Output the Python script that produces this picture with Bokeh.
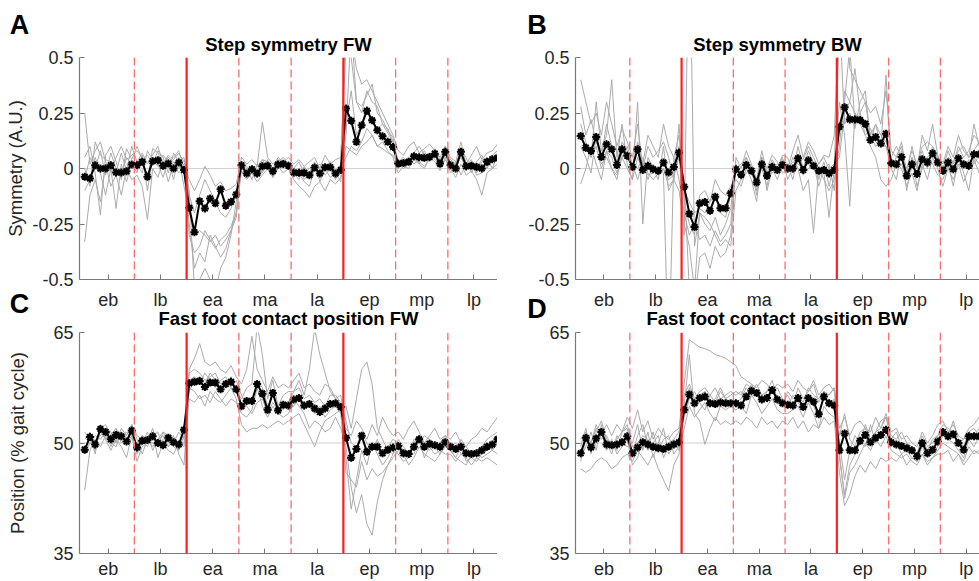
from bokeh.plotting import figure
from bokeh.layouts import column, row
from bokeh.models import Span, Label, FixedTicker, Range1d, GlobalInlineStyleSheet
from bokeh.embed import file_html
from bokeh.resources import INLINE

PHASES = ["eb", "lb", "ea", "ma", "la", "ep", "mp", "lp"]
STRIDE = list(range(1, 81))
PHASE_CENTERS = [5.5, 15.5, 25.5, 35.5, 45.5, 55.5, 65.5, 75.5]
SUB_BOUNDS = [10.5, 30.5, 40.5, 60.5, 70.5]
PHASE_BOUNDS = [20.5, 50.5]

SYM_TICKS = [-0.5, -0.25, 0, 0.25, 0.5]
SYM_TICK_LABELS = ["-0.5", "-0.25", "0", "0.25", "0.5"]
POS_TICKS = [35, 50, 65]
POS_TICK_LABELS = ["35", "50", "65"]

# ---------------- Panel A: Step symmetry FW ----------------
A_MEAN = [-0.037, -0.045, 0.015, 0.0, 0.0, 0.015, -0.018, -0.018, -0.012, 0.018,
          0.015, 0.03, -0.037, 0.033, 0.037, 0.012, 0.022, 0.0, 0.027, -0.007,
          -0.177, -0.287, -0.147, -0.18, -0.135, -0.157, -0.094, -0.168, -0.15, -0.117,
          0.015, -0.022, -0.003, -0.022, 0.01, 0.012, -0.012, 0.018, 0.02, 0.012,
          -0.018, -0.019, -0.019, -0.03, 0.004, -0.022, 0.006, 0.006, -0.022, -0.007,
          0.27, 0.215, 0.12, 0.195, 0.26, 0.217, 0.172, 0.145, 0.12, 0.097,
          0.022, 0.025, 0.03, 0.055, 0.051, 0.048, 0.052, 0.067, 0.022, 0.075,
          0.015, 0.0, 0.075, 0.01, 0.012, 0.007, 0.0, 0.03, 0.042, 0.048]
A_S1 = [0.25, 0.02, 0.08, 0.12, 0.03, -0.02, 0.05, 0.1, 0.04, 0.06,
        0.08, 0.05, -0.05, 0.09, 0.07, 0.02, 0.06, 0.04, 0.07, 0.03,
        -0.05, -0.1, -0.05, 0.01, -0.03, -0.08, -0.06, -0.1, -0.09, -0.07,
        0.05, 0.02, 0.04, 0.01, 0.21, 0.05, 0.02, 0.04, 0.03, 0.05,
        0.02, 0.04, 0.01, 0.03, 0.05, 0.0, 0.06, 0.02, 0.04, 0.05,
        0.55, 0.6, 0.45, 0.38, 0.4, 0.35, 0.3, 0.25, 0.2, 0.15,
        0.08, 0.06, 0.1, 0.12, 0.07, 0.09, 0.11, 0.08, 0.05, 0.1,
        0.05, 0.03, 0.12, 0.02, 0.06, 0.1, 0.04, 0.07, 0.08, 0.11]
A_S2 = [-0.33, -0.12, -0.05, -0.15, 0.02, -0.08, -0.03, -0.12, 0.0, -0.05,
        -0.03, -0.08, -0.23, 0.0, -0.04, 0.03, -0.06, 0.02, -0.02, 0.01,
        -0.25, -0.45, -0.38, -0.42, -0.3, -0.35, -0.4, -0.36, -0.28, -0.2,
        -0.01, -0.05, -0.02, -0.06, -0.03, 0.0, -0.04, 0.01, -0.02, 0.0,
        -0.05, -0.08, -0.1, -0.13, -0.08, -0.06, -0.1, -0.05, -0.07, -0.04,
        0.1, 0.08, 0.06, 0.1, 0.12, 0.15, 0.1, 0.12, 0.08, 0.05,
        -0.02, 0.01, 0.0, 0.04, 0.02, 0.0, 0.05, 0.03, -0.01, 0.04,
        0.0, -0.04, 0.02, -0.03, -0.01, -0.05, -0.12, -0.02, 0.0, 0.02]
A_S3 = [0.05, 0.1, -0.02, -0.21, 0.06, 0.1, 0.03, -0.05, 0.09, 0.04,
        0.1, 0.04, 0.06, 0.02, 0.08, 0.05, -0.02, 0.07, 0.03, 0.05,
        -0.1, -0.55, -0.5, -0.45, -0.5, -0.55, -0.45, -0.4, -0.3, -0.15,
        0.02, -0.03, 0.01, -0.02, 0.04, 0.0, -0.01, 0.03, 0.05, 0.02,
        0.0, 0.03, -0.02, 0.0, 0.02, -0.03, 0.01, 0.03, -0.02, 0.02,
        0.7, 0.5, 0.3, 0.25, 0.35, 0.3, 0.28, 0.2, 0.18, 0.12,
        0.03, 0.05, 0.02, 0.07, 0.1, 0.06, 0.03, 0.09, 0.04, 0.08,
        0.04, 0.02, 0.08, 0.05, -0.02, 0.03, 0.06, 0.0, 0.05, 0.04]
A_S4 = [-0.1, -0.05, 0.05, -0.02, -0.12, 0.0, -0.18, 0.02, -0.06, 0.03,
        -0.02, 0.06, -0.1, 0.05, 0.02, -0.04, 0.04, -0.05, 0.05, -0.08,
        -0.2, -0.3, -0.28, -0.3, -0.33, -0.3, -0.35, -0.32, -0.28, -0.22,
        0.03, 0.0, -0.05, 0.02, -0.02, 0.04, -0.04, 0.0, 0.01, 0.03,
        -0.03, 0.0, -0.05, -0.02, 0.03, -0.06, 0.0, -0.04, -0.02, -0.06,
        0.2, 0.35, 0.15, 0.2, 0.28, 0.22, 0.18, 0.2, 0.16, 0.12,
        0.0, 0.03, 0.05, 0.02, 0.04, 0.08, 0.03, 0.06, 0.02, 0.1,
        0.0, 0.03, -0.03, 0.02, 0.04, -0.02, 0.03, 0.05, 0.0, 0.06]
A_S5 = [0.0, -0.08, 0.12, 0.06, 0.04, 0.03, -0.02, 0.07, -0.01, 0.1,
        0.03, 0.07, 0.02, 0.06, 0.1, 0.02, 0.05, 0.03, 0.0, 0.02,
        -0.12, -0.2, -0.12, -0.05, -0.1, -0.15, -0.2, -0.22, -0.18, -0.12,
        0.0, -0.02, 0.0, -0.04, -0.01, 0.02, 0.0, 0.02, 0.04, 0.01,
        -0.02, -0.05, 0.01, -0.04, -0.01, 0.02, -0.03, 0.0, -0.05, 0.0,
        0.05, 0.1, 0.08, 0.12, 0.18, 0.15, 0.1, 0.09, 0.07, 0.06,
        0.02, 0.0, 0.02, 0.05, 0.03, 0.01, 0.04, 0.06, 0.0, 0.05,
        -0.02, 0.0, 0.06, -0.01, 0.02, 0.0, 0.04, 0.01, 0.03, 0.05]
A_S6 = [-0.05, 0.05, 0.0, 0.08, -0.03, 0.07, 0.0, -0.03, 0.05, 0.02,
        0.02, -0.02, 0.08, 0.04, 0.01, 0.06, 0.03, 0.05, 0.08, 0.0,
        -0.3, -0.38, -0.35, -0.28, -0.32, -0.36, -0.32, -0.3, -0.26, -0.2,
        0.02, 0.01, -0.02, 0.01, 0.04, 0.03, 0.0, 0.05, 0.03, 0.02,
        -0.04, -0.02, -0.06, -0.08, 0.0, -0.03, 0.02, 0.0, -0.04, -0.02,
        0.15, 0.65, 0.3, 0.28, 0.33, 0.38, 0.25, 0.22, 0.17, 0.14,
        0.01, 0.03, 0.04, 0.06, 0.02, 0.05, 0.07, 0.04, 0.02, 0.06,
        0.02, 0.01, 0.05, 0.0, 0.03, -0.03, -0.02, 0.04, 0.06, 0.08]

# ---------------- Panel B: Step symmetry BW ----------------
B_MEAN = [0.146, 0.094, 0.079, 0.142, 0.052, 0.109, 0.087, 0.016, 0.087, 0.057,
          0.007, 0.087, -0.007, 0.012, -0.003, -0.01, 0.027, -0.018, 0.007, 0.072,
          -0.082, -0.204, -0.264, -0.157, -0.151, -0.19, -0.127, -0.179, -0.179, -0.112,
          -0.003, -0.028, 0.016, -0.01, -0.063, 0.019, -0.033, 0.007, -0.007, 0.016,
          0.0, 0.0, 0.046, -0.007, 0.037, 0.012, -0.01, -0.007, -0.022, -0.007,
          0.188, 0.276, 0.221, 0.221, 0.218, 0.201, 0.128, 0.142, 0.113, 0.157,
          0.024, 0.019, 0.052, -0.033, 0.019, -0.025, 0.042, 0.027, 0.069, 0.027,
          -0.01, 0.027, -0.003, 0.046, 0.019, 0.012, 0.064, 0.064, 0.06, 0.06]
B_S1 = [0.4, 0.3, 0.2, 0.25, 0.15, 0.3, 0.2, 0.1, 0.18, 0.12,
        0.05, 0.2, 0.0, 0.1, 0.05, 0.08, 0.12, 0.05, -0.05, 0.1,
        -0.3, 1.2, -0.35, -0.2, -0.25, -0.28, -0.22, -0.3, -0.25, -0.18,
        0.02, -0.05, 0.05, 0.0, -0.1, 0.03, -0.02, 0.04, 0.0, 0.06,
        0.05, -0.02, 0.1, 0.0, 0.08, 0.02, -0.05, 0.03, -0.08, 0.02,
        0.6, 0.9, 0.45, 0.4, 0.35, 0.3, 0.25, 0.28, 0.2, 0.35,
        0.08, 0.05, 0.12, -0.02, 0.1, 0.0, 0.15, 0.08, 0.2, 0.06,
        0.0, 0.08, 0.02, 0.1, 0.05, 0.08, 0.15, 0.12, 0.1, 0.14]
B_S2 = [0.2, 0.12, 0.05, 0.3, 0.08, 0.15, 0.4, 0.05, 0.2, 0.02,
        -0.05, 0.3, -0.25, 0.05, 0.0, -0.05, 0.1, -0.1, -0.05, 0.2,
        -0.15, -0.25, -0.3, -0.12, -0.1, -0.15, -0.05, -0.1, -0.12, -0.08,
        -0.05, -0.08, 0.0, -0.05, -0.15, 0.05, -0.1, 0.0, -0.05, 0.02,
        -0.02, 0.05, 0.0, -0.1, -0.05, -0.29, 0.0, -0.05, -0.1, -0.05,
        0.1, 0.35, 0.3, 0.45, 0.25, 0.3, 0.15, 0.2, 0.1, 0.42,
        0.0, -0.05, 0.08, -0.1, 0.05, -0.08, 0.0, 0.05, 0.02, -0.03,
        -0.05, 0.02, -0.08, 0.05, -0.02, -0.1, 0.05, 0.02, -0.03, 0.06]
B_S3 = [-0.07, 0.0, 0.1, 0.02, -0.05, 0.08, 0.0, -0.03, 0.05, 0.1,
        0.02, 0.0, 0.05, -0.02, -0.05, -0.02, 0.0, -0.05, -0.03, 0.05,
        -0.05, -0.55, -0.6, -0.4, -0.38, -0.45, -0.35, -0.4, -0.38, -0.3,
        0.0, 0.02, 0.05, -0.03, -0.05, 0.0, -0.08, 0.03, 0.0, 0.04,
        0.02, -0.05, 0.06, 0.04, 0.1, 0.05, 0.0, -0.02, -0.22, 0.0,
        0.3, 0.15, -0.17, 0.25, 0.2, 0.15, 0.1, 0.05, -0.05, -0.08,
        -0.05, 0.02, 0.0, -0.08, -0.02, -0.1, 0.02, -0.05, 0.05, 0.0,
        -0.08, 0.0, -0.05, 0.02, -0.06, 0.0, 0.04, -0.02, 0.05, 0.02]
B_S4 = [0.28, 0.15, 0.22, 0.12, 0.05, 0.2, 0.1, 0.03, 0.12, 0.08,
        0.0, 0.12, 0.02, 0.15, 0.1, 0.05, 0.2, 0.1, 0.05, -0.05,
        -0.2, -0.3, -0.25, -0.32, -0.3, -0.35, -0.28, -0.33, -0.3, -0.25,
        0.05, 0.0, 0.08, 0.02, -0.05, 0.05, 0.0, 0.06, 0.03, -0.02,
        0.0, 0.08, 0.15, 0.05, 0.12, 0.08, 0.02, 0.06, 0.05, 0.15,
        0.7, 0.2, 0.25, 0.18, 0.3, 0.35, 0.12, 0.2, 0.15, 0.12,
        0.05, 0.1, 0.05, 0.0, 0.08, 0.02, 0.1, 0.12, 0.1, 0.05,
        0.02, 0.1, 0.05, 0.15, 0.08, 0.05, 0.2, 0.1, 0.12, 0.08]
B_S5 = [0.1, 0.05, -0.02, 0.15, 0.02, 0.05, 0.0, -0.05, 0.08, 0.05,
        0.02, -0.05, 0.03, -0.05, 0.02, -0.03, 0.0, -0.08, -0.05, -0.1,
        -0.25, -0.35, -0.55, -0.2, -0.22, -0.25, -0.3, -0.35, -0.32, -0.35,
        -0.1, -0.05, -0.02, 0.0, -0.12, 0.03, -0.05, -0.02, 0.0, 0.05,
        -0.05, 0.0, 0.05, -0.03, 0.0, 0.02, -0.08, 0.0, 0.02, -0.1,
        0.2, 0.3, 0.55, 0.2, 0.25, 0.15, 0.18, 0.12, 0.1, 0.1,
        0.0, 0.05, 0.1, -0.05, 0.0, 0.02, 0.08, 0.0, 0.1, 0.05,
        0.0, 0.05, 0.03, 0.08, 0.1, 0.05, 0.08, 0.12, 0.06, 0.1]
B_S6 = [0.15, 0.1, 0.05, 0.1, 0.0, 0.08, 0.05, -0.02, 0.05, 0.0,
        -0.05, 0.05, 0.0, -0.03, -0.02, 0.0, -0.02, -0.9, 0.05, 0.15,
        -0.1, -0.15, -0.2, -0.18, -0.2, -0.15, -0.12, -0.2, -0.22, -0.12,
        0.0, -0.03, 0.02, 0.0, -0.05, 0.08, -0.02, 0.0, 0.02, 0.0,
        0.0, 0.03, 0.02, 0.0, 0.05, 0.0, 0.02, 0.05, 0.0, 0.02,
        0.05, 0.25, 0.3, 0.25, 0.2, 0.22, 0.15, 0.1, 0.12, 0.1,
        0.05, 0.0, 0.02, -0.05, 0.05, 0.0, 0.03, 0.05, 0.08, 0.04,
        0.03, 0.0, 0.02, 0.05, 0.0, 0.04, 0.02, 0.06, 0.05, 0.03]

# ---------------- Panel C: Fast foot contact position FW ----------------
C_MEAN = [49.1, 50.8, 49.8, 51.9, 51.5, 50.5, 51.1, 50.9, 50.2, 51.7,
          49.4, 50.3, 50.4, 50.9, 50.0, 49.7, 50.7, 50.1, 49.8, 51.8,
          58.1, 58.3, 58.4, 57.6, 58.2, 58.2, 57.3, 58.0, 58.3, 57.3,
          55.0, 55.7, 55.7, 58.0, 56.7, 54.5, 56.8, 54.4, 55.2, 55.1,
          55.9, 56.1, 55.1, 55.3, 54.7, 54.2, 54.7, 55.3, 55.4, 54.9,
          50.7, 48.0, 49.2, 51.0, 48.8, 49.5, 49.5, 48.6, 49.1, 49.4,
          49.6, 48.6, 48.5, 49.5, 50.5, 49.5, 49.9, 49.7, 49.5, 50.1,
          49.5, 49.2, 49.5, 48.6, 48.5, 48.6, 49.0, 49.5, 49.8, 50.5]
C_S1 = [43.6, 49.0, 50.5, 49.5, 51.0, 50.0, 49.5, 51.5, 50.0, 52.0,
        48.5, 50.0, 51.5, 49.0, 50.5, 51.0, 49.5, 50.5, 49.0, 52.5,
        57.0, 58.5, 59.0, 58.0, 59.5, 58.5, 57.5, 58.0, 59.0, 57.0,
        56.0, 57.5, 58.0, 66.0, 62.0, 56.0, 58.5, 55.0, 56.5, 57.0,
        57.0, 58.5, 56.5, 60.0, 65.5, 62.0, 59.5, 57.0, 56.0, 55.0,
        48.0, 41.0, 45.0, 49.0, 47.0, 50.0, 48.5, 47.0, 48.0, 49.5,
        48.5, 47.5, 48.0, 50.0, 51.0, 49.0, 50.5, 49.5, 48.5, 50.5,
        49.0, 48.0, 49.5, 47.5, 48.0, 47.5, 48.5, 49.0, 50.0, 51.0]
C_S2 = [51.5, 50.5, 49.0, 52.0, 52.5, 51.0, 52.0, 50.5, 51.5, 50.5,
        50.0, 51.0, 50.0, 52.0, 49.5, 51.5, 51.0, 50.0, 51.5, 50.5,
        60.0, 61.5, 63.5, 61.0, 60.5, 61.0, 60.0, 59.5, 60.5, 59.0,
        58.0, 60.0, 64.5, 60.0, 58.5, 57.0, 59.0, 57.5, 58.0, 57.5,
        58.5, 59.5, 57.5, 58.0, 57.0, 56.5, 58.0, 57.5, 56.0, 56.5,
        52.0, 51.0, 53.0, 52.0, 50.5, 52.5, 51.0, 53.5, 52.0, 51.0,
        51.5, 50.5, 52.0, 53.0, 51.5, 50.0, 51.0, 52.0, 50.5, 51.0,
        50.5, 51.5, 50.0, 49.5, 50.5, 51.0, 52.0, 51.5, 52.5, 53.5]
C_S3 = [49.0, 51.0, 48.5, 52.5, 50.5, 49.0, 50.5, 49.5, 48.0, 51.0,
        47.5, 49.5, 50.0, 51.5, 48.0, 50.0, 49.0, 48.5, 50.0, 49.5,
        56.0, 55.5, 56.5, 55.0, 57.0, 56.0, 55.5, 56.5, 57.5, 56.0,
        52.5, 51.5, 52.0, 52.0, 52.5, 52.0, 52.5, 53.0, 52.5, 53.0,
        53.5, 54.0, 52.5, 51.0, 49.5, 51.5, 53.0, 53.5, 54.0, 54.5,
        55.0, 52.0, 56.0, 60.0, 61.0, 58.0, 52.0, 50.5, 49.0, 48.5,
        49.5, 48.0, 49.0, 48.5, 50.5, 48.0, 49.5, 48.5, 49.0, 48.5,
        48.5, 47.5, 48.5, 48.0, 47.0, 48.0, 47.5, 48.0, 47.5, 47.0]
C_S4 = [50.5, 51.5, 50.0, 51.0, 52.0, 51.5, 50.0, 52.0, 51.0, 52.5,
        51.0, 50.5, 49.5, 51.0, 51.5, 49.5, 50.5, 49.5, 49.0, 51.0,
        58.5, 59.0, 58.0, 59.5, 58.5, 57.5, 58.5, 59.0, 57.5, 58.5,
        56.5, 55.0, 54.0, 55.5, 56.0, 54.0, 55.5, 54.5, 55.0, 54.5,
        55.0, 56.0, 54.5, 55.5, 54.0, 55.0, 53.5, 54.5, 55.0, 54.0,
        46.0, 45.0, 44.0, 47.5, 45.0, 46.5, 45.5, 46.0, 47.0, 48.0,
        49.0, 48.5, 47.0, 48.0, 49.5, 48.5, 48.0, 47.5, 48.5, 49.5,
        50.0, 49.0, 50.5, 49.5, 48.5, 49.0, 49.5, 50.0, 49.0, 50.0]
C_S5 = [48.5, 50.0, 49.5, 51.5, 50.5, 51.0, 52.0, 50.0, 50.5, 51.5,
        49.5, 51.0, 50.5, 50.0, 49.5, 50.5, 49.5, 51.0, 48.5, 47.0,
        57.5, 57.0, 56.0, 56.5, 55.5, 57.0, 56.0, 55.0, 56.0, 55.5,
        54.0, 53.5, 54.5, 57.5, 55.0, 53.5, 55.0, 54.0, 53.5, 54.0,
        56.0, 55.0, 54.0, 52.0, 53.0, 52.5, 51.5, 52.0, 53.5, 52.0,
        49.5, 44.0, 40.5, 43.0, 39.0, 37.5, 42.0, 45.0, 47.0, 48.5,
        50.5, 49.5, 48.5, 49.5, 51.0, 50.0, 49.0, 50.0, 49.5, 49.5,
        49.0, 48.0, 47.5, 47.0, 48.5, 49.0, 48.0, 48.5, 49.0, 48.5]
C_S6 = [49.5, 50.0, 51.0, 50.5, 51.5, 49.5, 51.0, 51.5, 50.0, 52.5,
        50.5, 48.5, 50.5, 49.5, 50.5, 51.5, 50.0, 50.5, 50.0, 50.0,
        59.5, 60.0, 59.5, 58.5, 59.0, 59.5, 58.0, 58.5, 58.0, 57.5,
        55.0, 56.0, 55.5, 58.5, 57.5, 55.0, 56.5, 55.0, 54.5, 55.5,
        57.0, 57.5, 56.0, 56.5, 55.5, 56.0, 55.0, 56.5, 56.5, 55.5,
        53.0, 50.0, 49.5, 51.5, 50.0, 49.0, 50.5, 48.5, 49.5, 50.5,
        50.0, 49.0, 48.5, 50.5, 50.0, 51.0, 50.5, 49.5, 50.0, 51.0,
        49.5, 50.0, 48.5, 48.5, 49.0, 48.5, 49.5, 50.5, 51.0, 51.5]

# ---------------- Panel D: Fast foot contact position BW ----------------
D_MEAN = [48.6, 50.7, 49.4, 50.6, 51.5, 49.8, 49.7, 49.8, 50.1, 50.9,
          48.6, 49.4, 50.1, 49.8, 49.5, 49.3, 49.2, 49.5, 49.8, 50.1,
          54.5, 56.6, 55.4, 56.1, 56.3, 55.4, 55.3, 55.5, 55.4, 55.4,
          55.4, 55.1, 56.3, 57.1, 56.8, 55.9, 56.1, 57.2, 55.9, 55.4,
          55.2, 55.1, 56.1, 54.9, 56.1, 55.6, 53.9, 56.3, 55.4, 55.1,
          49.0, 51.3, 49.0, 49.0, 50.3, 51.1, 50.1, 50.7, 51.1, 51.8,
          50.1, 49.8, 49.6, 49.3, 49.0, 48.2, 50.0, 48.6, 49.1, 50.2,
          51.5, 50.9, 51.2, 50.0, 49.1, 50.9, 50.9, 50.9, 51.0, 51.0]
D_S1 = [50.5, 51.5, 50.0, 52.0, 51.0, 52.5, 51.0, 52.5, 51.5, 53.5,
        52.0, 54.5, 51.5, 53.0, 50.5, 52.0, 51.0, 50.5, 51.5, 52.0,
        58.0, 64.0, 63.5, 63.0, 62.8, 62.5, 62.0, 61.8, 61.5, 61.0,
        60.5, 59.0, 58.5, 58.0, 57.5, 58.5, 58.0, 57.0, 58.0, 57.5,
        58.0, 57.0, 58.5, 57.5, 57.0, 58.5, 56.5, 57.5, 58.0, 57.0,
        52.0, 53.5, 51.0, 52.5, 53.0, 52.0, 51.5, 53.5, 52.0, 54.0,
        51.5, 52.0, 50.5, 51.0, 50.0, 49.5, 51.5, 50.0, 51.0, 52.5,
        53.0, 51.5, 52.5, 51.0, 50.5, 52.0, 52.5, 53.5, 52.0, 52.5]
D_S2 = [46.5, 46.0, 46.5, 47.5, 48.0, 47.5, 46.5, 47.0, 48.0, 48.5,
        47.5, 49.0, 48.0, 47.0, 48.5, 46.5, 45.0, 43.5, 47.0, 48.5,
        55.0, 62.0, 54.0, 53.0, 49.8, 52.0, 53.5, 52.5, 53.0, 52.5,
        53.0, 52.5, 53.5, 53.0, 52.0, 53.5, 52.5, 53.0, 52.0, 53.0,
        52.5, 53.5, 52.0, 53.0, 51.5, 52.5, 52.0, 53.5, 52.5, 53.0,
        46.0, 41.5, 43.0, 45.5, 47.0, 46.0, 47.5, 46.5, 48.0, 47.5,
        48.0, 47.5, 48.5, 47.0, 48.0, 47.5, 48.5, 47.0, 48.0, 48.5,
        48.5, 49.0, 47.5, 48.5, 47.0, 48.0, 49.0, 48.5, 48.0, 49.0]
D_S3 = [48.0, 49.5, 51.5, 49.0, 52.5, 50.0, 48.5, 51.0, 50.0, 49.5,
        50.0, 52.5, 49.0, 51.5, 48.0, 50.0, 52.0, 48.5, 49.5, 50.5,
        53.5, 56.0, 57.0, 55.5, 54.5, 56.5, 57.5, 56.0, 56.5, 57.0,
        56.5, 57.0, 56.0, 58.0, 56.5, 55.5, 57.0, 58.5, 56.0, 55.5,
        56.5, 55.0, 57.5, 56.0, 57.0, 58.0, 55.5, 57.0, 56.5, 57.5,
        50.0, 45.0, 49.0, 51.0, 50.0, 52.5, 50.5, 51.5, 52.0, 53.5,
        50.5, 51.5, 49.5, 50.0, 49.0, 48.5, 51.0, 49.5, 50.0, 51.0,
        52.0, 51.0, 53.0, 50.5, 49.5, 51.5, 51.0, 52.0, 51.5, 51.0]
D_S4 = [49.5, 52.0, 48.5, 51.5, 53.0, 50.5, 50.0, 49.0, 51.5, 52.0,
        48.5, 51.0, 52.5, 49.5, 51.5, 49.0, 50.5, 51.0, 48.5, 49.5,
        54.0, 57.5, 55.0, 56.5, 57.0, 55.5, 56.0, 57.5, 56.0, 55.5,
        55.5, 56.0, 57.5, 56.5, 58.0, 56.5, 55.5, 57.0, 57.5, 56.0,
        55.0, 56.5, 55.5, 54.5, 56.0, 55.0, 53.5, 56.5, 55.0, 56.0,
        48.0, 43.0, 47.0, 48.5, 50.0, 49.5, 52.5, 50.0, 51.0, 52.0,
        49.5, 50.0, 48.5, 49.0, 48.0, 47.5, 49.5, 48.0, 48.5, 49.5,
        51.0, 50.5, 50.0, 49.0, 48.0, 50.5, 49.5, 51.0, 50.0, 50.5]
D_S5 = [47.5, 50.5, 49.0, 50.0, 51.5, 49.0, 50.5, 48.5, 49.5, 50.5,
        47.0, 48.0, 50.5, 49.0, 50.0, 51.0, 48.0, 49.5, 50.5, 49.0,
        52.0, 55.0, 53.5, 54.5, 55.5, 54.0, 53.0, 55.0, 54.5, 55.0,
        54.5, 55.0, 54.0, 56.5, 55.5, 54.0, 55.0, 56.0, 54.5, 54.0,
        54.0, 54.5, 55.0, 53.5, 55.5, 54.0, 52.0, 55.0, 54.0, 53.5,
        48.5, 42.5, 46.0, 47.0, 48.5, 50.0, 49.0, 50.5, 49.5, 51.0,
        49.0, 48.5, 48.0, 48.5, 47.5, 47.0, 48.5, 47.5, 48.0, 49.0,
        50.0, 49.5, 49.0, 48.5, 47.5, 49.5, 48.5, 49.0, 49.5, 50.0]
D_S6 = [48.5, 51.0, 50.0, 52.5, 50.5, 51.0, 49.5, 50.5, 51.5, 52.5,
        49.5, 50.0, 51.0, 50.5, 49.5, 50.0, 49.0, 50.0, 50.5, 51.5,
        56.5, 58.0, 56.0, 57.0, 57.5, 56.5, 55.5, 57.0, 56.0, 56.5,
        57.0, 56.5, 58.0, 57.5, 57.0, 56.5, 57.0, 57.5, 56.0, 55.0,
        57.0, 56.0, 56.5, 55.5, 57.5, 56.5, 56.0, 57.0, 56.5, 57.5,
        51.0, 54.0, 50.5, 49.5, 51.5, 52.0, 50.0, 51.5, 53.0, 53.5,
        51.0, 50.5, 51.5, 50.0, 49.5, 48.5, 50.5, 49.0, 50.5, 51.0,
        52.5, 52.0, 51.5, 50.0, 50.5, 51.5, 52.0, 51.0, 51.5, 52.0]

FONT = "Liberation Sans"
TXT = "#262626"


def make_panel(mean, subjects, yr, ticks, tick_labels, ref, title, title_standoff,
               ylabel, ylabel_standoff, width, height, bl, bt, bb, xend, x_standoff):
    p = figure(width=width, height=height, x_range=(0, xend), y_range=yr,
               output_backend="svg", toolbar_location=None,
               min_border_left=bl, min_border_right=0, min_border_top=bt,
               min_border_bottom=bb)
    p.outline_line_color = None
    p.grid.visible = False
    p.border_fill_color = None
    p.background_fill_color = "white"

    p.title.text = title
    p.title.align = "center"
    p.title.text_font = FONT
    p.title.text_font_style = "bold"
    p.title.text_font_size = "18.5px"
    p.title.text_color = "black"
    p.title.standoff = title_standoff

    for ax in (p.xaxis[0], p.yaxis[0]):
        ax.axis_line_color = "#7a7a7a"
        ax.axis_line_width = 1.2
        ax.major_tick_line_color = "#7a7a7a"
        ax.major_tick_in = 5
        ax.major_tick_out = 0
        ax.minor_tick_line_color = None
        ax.major_label_text_font = FONT
        ax.major_label_text_font_size = "18px"
        ax.major_label_text_color = TXT
    p.xaxis.ticker = FixedTicker(ticks=PHASE_CENTERS)
    p.xaxis.major_label_overrides = {t: s for t, s in zip(PHASE_CENTERS, PHASES)}
    p.xaxis.major_label_standoff = x_standoff
    p.yaxis.ticker = FixedTicker(ticks=ticks)
    p.yaxis.major_label_overrides = {t: s for t, s in zip(ticks, tick_labels)}
    p.yaxis.major_label_standoff = 6
    if ylabel:
        p.yaxis.axis_label = ylabel
        p.yaxis.axis_label_standoff = ylabel_standoff
        p.yaxis.axis_label_text_font = FONT
        p.yaxis.axis_label_text_font_size = "18.5px"
        p.yaxis.axis_label_text_font_style = "normal"
        p.yaxis.axis_label_text_color = TXT

    p.add_layout(Span(location=ref, dimension="width", line_color="#d2d2d2",
                      line_width=1.2, level="underlay"))

    for s in subjects:
        p.line(STRIDE, s, line_color="#ababab", line_width=1)

    for b in SUB_BOUNDS:
        p.add_layout(Span(location=b, dimension="height", line_color="#ff6a6a",
                          line_width=1.3, line_dash="8 4"))
    for b in PHASE_BOUNDS:
        p.add_layout(Span(location=b, dimension="height", line_color="#ff1e1e",
                          line_width=2.2))

    p.line(STRIDE, mean, line_color="black", line_width=2)
    p.scatter(STRIDE, mean, marker="asterisk", size=8, line_color="black",
              line_width=2)
    return p


XEND_RIGHT = 80 * 404 / 414

pA = make_panel(A_MEAN, [A_S1, A_S2, A_S3, A_S4, A_S5, A_S6], (-0.5, 0.5),
                SYM_TICKS, SYM_TICK_LABELS, 0, "Step symmetry FW", 5,
                "Symmetry (A.U.)", 3, 497, 312, 79, 57, 32, 80, 10)
pB = make_panel(B_MEAN, [B_S1, B_S2, B_S3, B_S4, B_S5, B_S6], (-0.5, 0.5),
                SYM_TICKS, SYM_TICK_LABELS, 0, "Step symmetry BW", 5,
                None, 0, 482, 312, 78, 57, 32, XEND_RIGHT, 10)
pC = make_panel(C_MEAN, [C_S1, C_S2, C_S3, C_S4, C_S5, C_S6], (35, 65),
                POS_TICKS, POS_TICK_LABELS, 50, "Fast foot contact position FW", 7,
                "Position (% gait cycle)", 22, 497, 281, 79, 32, 27, 80, 5)
pD = make_panel(D_MEAN, [D_S1, D_S2, D_S3, D_S4, D_S5, D_S6], (35, 65),
                POS_TICKS, POS_TICK_LABELS, 50, "Fast foot contact position BW", 7,
                None, 0, 482, 281, 78, 32, 27, XEND_RIGHT, 5)

# transparent overlay carrying the panel letters
ov = figure(width=979, height=581, x_range=Range1d(0, 979), y_range=Range1d(581, 0),
            x_axis_type=None, y_axis_type=None, output_backend="svg",
            toolbar_location=None, min_border=0, margin=(-581, 0, 0, 0))
ov.title = None
ov.outline_line_color = None
ov.background_fill_color = None
ov.border_fill_color = None
for letter, lx, ly in [("A", 19, 24), ("B", 536.5, 24), ("C", 19, 303), ("D", 536.5, 308)]:
    ov.add_layout(Label(x=lx, y=ly, text=letter, text_align="center",
                        text_baseline="alphabetic", text_font=FONT,
                        text_font_style="bold", text_font_size="27px",
                        text_color="black"))

r1 = row(pA, pB)
r2 = row(pC, pD, margin=(-12, 0, 0, 0))
layout = column(r1, r2, ov, stylesheets=[GlobalInlineStyleSheet(
    css="html, body { overflow: hidden; margin: 0; padding: 0; }")])

open("out.html", "w").write(file_html(layout, INLINE))
